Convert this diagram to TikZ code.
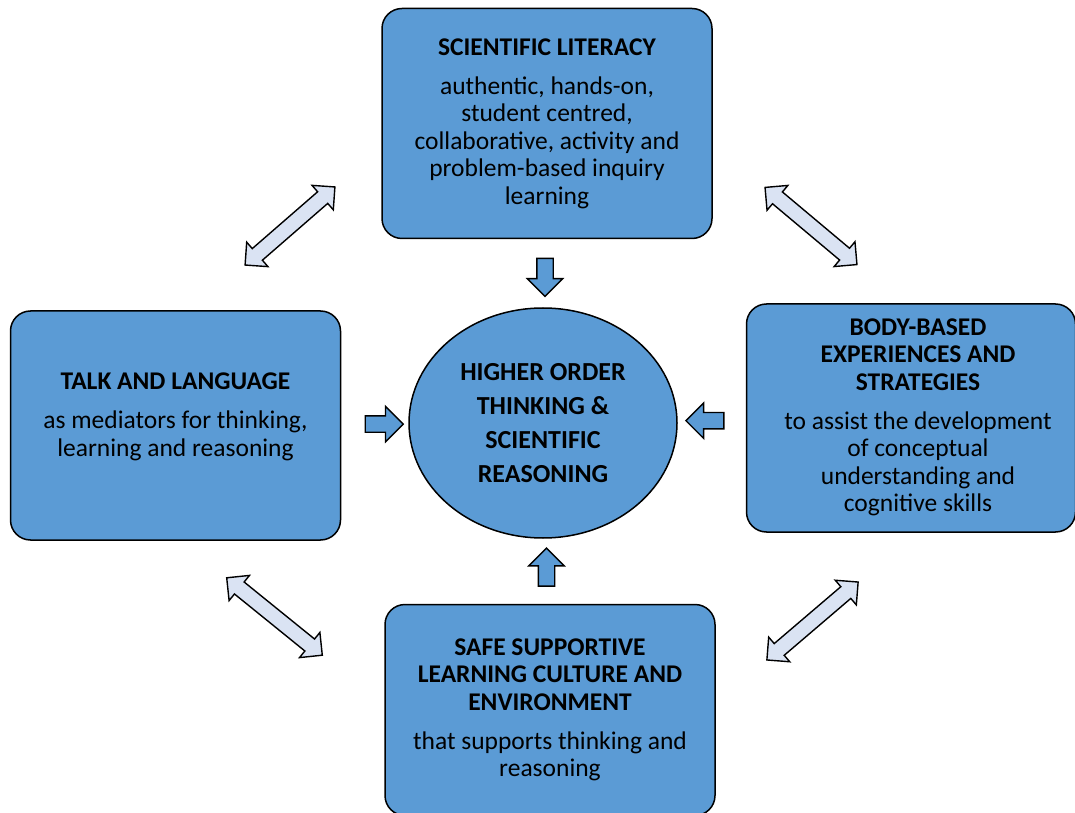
\documentclass[tikz,border=0pt]{standalone}
\usepackage{fontspec}
\setmainfont{Carlito}
\usetikzlibrary{positioning,shapes.geometric,shapes.arrows,calc}
\definecolor{boxblue}{HTML}{5B9BD5}
\definecolor{linkblue}{HTML}{DAE3F3}

\begin{document}
\begin{tikzpicture}[x=1pt, y=1pt,
    box/.style={draw, line width=1.5pt, fill=boxblue, rounded corners=20pt, minimum width=330pt, minimum height=230pt, align=center, font=\fontsize{25.5}{27.5}\selectfont},
    push/.style={single arrow, draw, line width=1.4pt, fill=boxblue, inner sep=7.5pt, single arrow head extend=9.5pt, minimum height=38pt},
    link/.style={double arrow, draw, line width=1.4pt, fill=linkblue, inner sep=7pt, double arrow head extend=8.5pt, minimum height=120pt}]
    \useasboundingbox (0,0) rectangle (1075,812);

    % Centre
    \node[draw, ellipse, line width=1.5pt, fill=boxblue, minimum width=268pt, minimum height=230pt, align=center, font=\bfseries\fontsize{26}{34}\selectfont] (centre) at (543,389) {HIGHER ORDER\\THINKING \&\\SCIENTIFIC\\REASONING};

    % Boxes
    \node[box, above=68pt of centre, xshift=4pt] (literacy) {\textbf{SCIENTIFIC LITERACY}\\[11.5pt]authentic, hands-on,\\student centred,\\collaborative, activity and\\problem-based inquiry\\learning};
    \node[box, left=67pt of centre, yshift=-2.5pt, minimum height=229pt] (talk) {\textbf{TALK AND LANGUAGE}\\[11.5pt]as mediators for thinking,\\learning and reasoning\\[-5.5pt]\mbox{}};
    \node[box, right=68pt of centre, yshift=5pt, minimum width=329pt, minimum height=228pt] (body) {\hspace*{14pt}\begin{tabular}{@{}c@{}}\textbf{BODY-BASED}\\\textbf{EXPERIENCES AND}\\\textbf{STRATEGIES}\\[11.5pt]to assist the development\\of conceptual\\understanding and\\cognitive skills\end{tabular}};
    \node[box, below=65pt of centre, xshift=7pt, minimum height=211pt] (culture) {\textbf{SAFE SUPPORTIVE}\\\textbf{LEARNING CULTURE AND}\\\textbf{ENVIRONMENT}\\[11.5pt]that supports thinking and\\reasoning};

    % Arrows into the centre
    \node[push, rotate=-90] (down) at ($(literacy.south)!0.5!(centre.north)$) {};
    \node[push] (fromtalk) at ($(talk.east)!0.58!(centre.west)$) {};
    \node[push, rotate=180] (frombody) at ($(centre.east)!0.46!(body.west)$) {};
    \node[push, rotate=90] (up) at ($(culture.north)!0.5!(centre.south)$) {};

    % Links between boxes
    \node[link, rotate=41, minimum height=119pt] (link-tl) at (290,586) {};
    \node[link, rotate=-40] (link-tr) at (811,586) {};
    \node[link, rotate=-39, minimum height=123pt] (link-bl) at (274.5,195.5) {};
    \node[link, rotate=40.5] (link-br) at (812.5,191) {};
\end{tikzpicture}
\end{document}
